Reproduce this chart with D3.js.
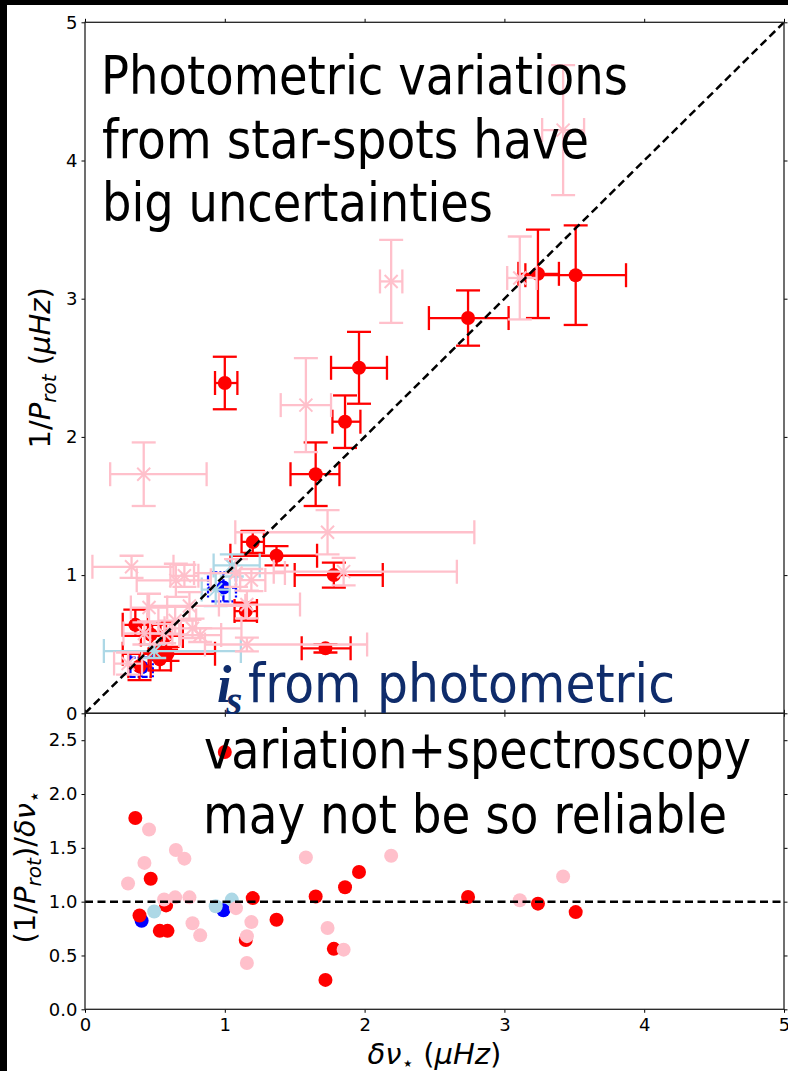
<!DOCTYPE html>
<html>
<head>
<meta charset="utf-8">
<script src="https://cdn.jsdelivr.net/npm/d3@7"></script>
<style>
  html, body { margin: 0; padding: 0; background: #000; }
  svg { display: block; }
</style>
</head>
<body>
<script>
// ---- Data: rotation rate 1/Prot vs. seismic splitting δν⋆ (µHz) ----
// red sample
const redDnu   = [1.00, 1.96, 1.86, 1.65, 2.74, 3.24, 3.51, 1.20, 1.37, 1.78, 1.72, 1.15, 0.36, 0.47, 0.58, 0.59, 0.535, 0.39];
const redInvP  = [2.39, 2.50, 2.11, 1.73, 2.86, 3.18, 3.17, 1.24, 1.14, 1.00, 0.47, 0.74, 0.64, 0.57, 0.56, 0.43, 0.39, 0.34];
const redDnuErr  = [[0.07,0.09],[0.20,0.20],[0.09,0.11],[0.18,0.17],[0.28,0.29],[0.14,0.15],[0.36,0.36],[0.08,0.08],[0.33,0.29],[0.28,0.35],[0.17,0.18],[0.08,0.08],[0.09,0.09],[0.07,0.07],[0.10,0.12],[0.32,0.34],[0.08,0.08],[0.08,0.08]];
const redInvPErr = [[0.19,0.19],[0.26,0.26],[0.19,0.19],[0.23,0.23],[0.20,0.20],[0.32,0.32],[0.36,0.36],[0.08,0.08],[0.07,0.07],[0.09,0.09],[0.03,0.03],[0.07,0.06],[0.08,0.11],[0.07,0.07],[0.10,0.10],[0.05,0.05],[0.08,0.08],[0.10,0.10]];

// blue sample
const blueDnu  = [0.405, 0.99];
const blueInvP = [0.333, 0.91];
const blueDnuErr  = [[0.08,0.08],[0.11,0.09]];
const blueInvPErr = [[0.07,0.07],[0.10,0.11]];

// light-blue sample
const lbDnu  = [0.495, 0.935, 1.05];
const lbInvP = [0.45, 0.895, 1.07];
const lbDnuErr  = [[0.36,0.62],[0.10,0.10],[0.13,0.20]];
const lbInvPErr = [[0.05,0.05],[0.12,0.12],[0.08,0.08]];

// pink sample
const pinkDnu  = [0.458, 0.425, 0.65, 0.711, 0.308, 0.566, 0.645, 0.747, 0.769, 0.824, 1.08, 1.19, 1.158, 1.158, 1.58, 1.735, 1.85, 2.19, 3.11, 3.42, 0.42, 0.333];
const pinkInvP = [0.765, 0.578, 0.962, 0.995, 0.36, 0.577, 0.671, 0.777, 0.615, 0.566, 1.015, 0.964, 0.787, 0.498, 2.23, 1.31, 1.025, 3.125, 3.15, 4.22, 1.73, 1.06];
const pinkDnuErr  = [[0.13,0.13],[0.15,0.20],[0.28,0.25],[0.10,0.10],[0.10,0.10],[0.10,0.12],[0.12,0.15],[0.30,0.40],[0.20,0.35],[0.15,0.15],[0.30,0.35],[0.08,0.10],[0.20,0.38],[0.30,0.86],[0.18,0.18],[0.66,1.05],[0.50,0.81],[0.08,0.08],[0.09,0.12],[0.15,0.15],[0.24,0.45],[0.28,0.30]];
const pinkInvPErr = [[0.10,0.10],[0.08,0.08],[0.12,0.12],[0.08,0.08],[0.08,0.08],[0.07,0.07],[0.10,0.10],[0.10,0.10],[0.07,0.07],[0.05,0.05],[0.10,0.10],[0.08,0.08],[0.10,0.10],[0.05,0.05],[0.34,0.34],[0.16,0.16],[0.10,0.10],[0.30,0.30],[0.30,0.30],[0.47,0.47],[0.23,0.23],[0.08,0.08]];

// tick labels
const xTicks = [0, 1, 2, 3, 4, 5];
const topYTicks = [0, 1, 2, 3, 4, 5];
const bottomYTicks = [0.0, 0.5, 1.0, 1.5, 2.0, 2.5];

// ---- Layout ----
const W = 788, H = 1071;
const left = 85, right = 784;
const topT = 22.3, topB = 713.3, botB = 1009.3;

const svg = d3.select("body").append("svg").attr("width", W).attr("height", H);
svg.append("rect").attr("width", W).attr("height", H).attr("fill", "#000");
svg.append("rect").attr("x", 7).attr("y", 5).attr("width", W - 7).attr("height", H - 5).attr("fill", "#fff");

const xS = d3.scaleLinear().domain([0, 5]).range([left, right]);
const yTop = d3.scaleLinear().domain([0, 5]).range([topB, topT]);
const yBot = d3.scaleLinear().domain([0, 2.75]).range([botB, topB]);

const defs = svg.append("defs");
defs.append("clipPath").attr("id", "clipTop").append("rect")
  .attr("x", left).attr("y", topT).attr("width", right - left).attr("height", topB - topT);
defs.append("clipPath").attr("id", "clipBot").append("rect")
  .attr("x", left).attr("y", topB).attr("width", right - left).attr("height", botB - topB);

const groups = [
  { dnu: blueDnu, invP: blueInvP, dErr: blueDnuErr, pErr: blueInvPErr, color: "#0000ff", marker: "o", dash: "6,2,2,2" },
  { dnu: redDnu,  invP: redInvP,  dErr: redDnuErr,  pErr: redInvPErr,  color: "#ff0000", marker: "o" },
  { dnu: lbDnu,   invP: lbInvP,   dErr: lbDnuErr,   pErr: lbInvPErr,   color: "#add8e6", marker: "x" },
  { dnu: pinkDnu, invP: pinkInvP, dErr: pinkDnuErr, pErr: pinkInvPErr, color: "#ffc0cb", marker: "x" }
];

// ---- Upper panel: 1/Prot vs δν⋆ with error bars ----
const upperG = svg.append("g").attr("clip-path", "url(#clipTop)");
const cap = 12;

groups.forEach(gr => {
  const data = gr.dnu.map((d, i) => ({ x: d, y: gr.invP[i], xe: gr.dErr[i], ye: gr.pErr[i] }));
  const g = upperG.append("g");
  const eb = g.append("g").attr("stroke", gr.color).attr("stroke-width", 2.3).attr("fill", "none");
  if (gr.dash) eb.attr("stroke-dasharray", gr.dash);
  data.forEach(d => {
    const cx = xS(d.x), cy = yTop(d.y);
    const x1 = xS(d.x - d.xe[0]), x2 = xS(d.x + d.xe[1]);
    const y1 = yTop(d.y - d.ye[0]), y2 = yTop(d.y + d.ye[1]);
    eb.append("line").attr("x1", x1).attr("x2", x2).attr("y1", cy).attr("y2", cy);
    eb.append("line").attr("x1", cx).attr("x2", cx).attr("y1", y1).attr("y2", y2);
    [x1, x2].forEach(xx => eb.append("line").attr("x1", xx).attr("x2", xx).attr("y1", cy - cap).attr("y2", cy + cap));
    [y1, y2].forEach(yy => eb.append("line").attr("x1", cx - cap).attr("x2", cx + cap).attr("y1", yy).attr("y2", yy));
  });
  if (gr.marker === "o") {
    g.selectAll("circle").data(data).join("circle")
      .attr("cx", d => xS(d.x)).attr("cy", d => yTop(d.y)).attr("r", 7)
      .attr("fill", gr.color);
  } else {
    const s = 6.5;
    g.selectAll("path.mk").data(data).join("path").attr("class", "mk")
      .attr("d", d => {
        const cx = xS(d.x), cy = yTop(d.y);
        return `M${cx - s},${cy - s}L${cx + s},${cy + s}M${cx - s},${cy + s}L${cx + s},${cy - s}`;
      })
      .attr("stroke", gr.color).attr("stroke-width", 2).attr("fill", "none");
  }
});

// one-to-one line
upperG.append("line")
  .attr("x1", xS(0)).attr("y1", yTop(0)).attr("x2", xS(5)).attr("y2", yTop(5))
  .attr("stroke", "#000").attr("stroke-width", 2.5).attr("stroke-dasharray", "8,4.5");

// ---- Lower panel: ratio (1/Prot)/δν⋆ ----
const lowerG = svg.append("g").attr("clip-path", "url(#clipBot)");
groups.forEach(gr => {
  const data = gr.dnu.map((d, i) => ({ x: d, r: gr.invP[i] / d }));
  lowerG.append("g").selectAll("circle").data(data).join("circle")
    .attr("cx", d => xS(d.x)).attr("cy", d => yBot(d.r)).attr("r", 7)
    .attr("fill", gr.color);
});
lowerG.append("line")
  .attr("x1", xS(0)).attr("x2", xS(5)).attr("y1", yBot(1)).attr("y2", yBot(1))
  .attr("stroke", "#000").attr("stroke-width", 2.5).attr("stroke-dasharray", "8,4.5");

// ---- Axes ----
function styleAxis(sel) {
  sel.select(".domain").remove();
  sel.selectAll(".tick line").attr("stroke", "#000").attr("stroke-width", 1);
  sel.selectAll(".tick text").attr("font-family", "DejaVu Sans").attr("font-size", 18).attr("fill", "#000");
}
const tk = 3.5;
svg.append("g").attr("transform", `translate(${left},0)`)
  .call(d3.axisLeft(yTop).tickValues(topYTicks).tickSize(tk).tickPadding(4).tickFormat(d3.format("d"))).call(styleAxis);
svg.append("g").attr("transform", `translate(${right},0)`)
  .call(d3.axisRight(yTop).tickValues(topYTicks).tickSize(tk).tickFormat("")).call(styleAxis);
svg.append("g").attr("transform", `translate(0,${topT})`)
  .call(d3.axisTop(xS).tickValues(xTicks).tickSize(tk).tickFormat("")).call(styleAxis);
svg.append("g").attr("transform", `translate(0,${topB})`)
  .call(d3.axisBottom(xS).tickValues(xTicks).tickSize(tk).tickFormat("")).call(styleAxis);

svg.append("g").attr("transform", `translate(${left},0)`)
  .call(d3.axisLeft(yBot).tickValues(bottomYTicks).tickSize(tk).tickPadding(4).tickFormat(d3.format(".1f"))).call(styleAxis);
svg.append("g").attr("transform", `translate(${right},0)`)
  .call(d3.axisRight(yBot).tickValues(bottomYTicks).tickSize(tk).tickFormat("")).call(styleAxis);
svg.append("g").attr("transform", `translate(0,${topB})`)
  .call(d3.axisTop(xS).tickValues(xTicks).tickSize(tk).tickFormat("")).call(styleAxis);
svg.append("g").attr("transform", `translate(0,${botB})`)
  .call(d3.axisBottom(xS).tickValues(xTicks).tickSize(tk).tickPadding(5.5).tickFormat(d3.format("d"))).call(styleAxis);

// spines
[[topT, topB], [topB, botB]].forEach(([a, b]) => {
  svg.append("rect").attr("x", left).attr("y", a).attr("width", right - left).attr("height", b - a)
    .attr("fill", "none").attr("stroke", "#222").attr("stroke-width", 1.3);
});

// ---- Axis labels ----
function mathLabel(g, parts) {
  const t = g.append("text").attr("font-family", "DejaVu Sans").attr("font-size", 29)
    .attr("fill", "#000").attr("text-anchor", "middle");
  parts.forEach(p => {
    const s = t.append("tspan").text(p.t);
    if (p.i) s.attr("font-style", "italic");
    if (p.sub) s.attr("font-size", 20);
    if (p.dy) s.attr("dy", p.dy);
  });
  return t;
}
mathLabel(svg.append("g").attr("transform", `translate(50,${(topT + topB) / 2}) rotate(-90)`), [
  { t: "1/" }, { t: "P", i: true }, { t: "rot", i: true, sub: true, dy: 6 }, { t: " (", dy: -6 }, { t: "μHz", i: true }, { t: ")" }
]);
mathLabel(svg.append("g").attr("transform", `translate(35,867) rotate(-90)`), [
  { t: "(1/" }, { t: "P", i: true }, { t: "rot", i: true, sub: true, dy: 6 }, { t: ")/", dy: -6 }, { t: "δν", i: true }, { t: "⋆", sub: true, dy: 6 }
]);
mathLabel(svg.append("g").attr("transform", `translate(${(left + right) / 2},1064)`), [
  { t: "δν", i: true }, { t: "⋆", sub: true, dy: 6 }, { t: " (", dy: -6 }, { t: "μHz", i: true }, { t: ")" }
]);

// ---- Annotations ----
function bigText(x, y, str, len, color) {
  svg.append("text").attr("x", x).attr("y", y).text(str)
    .attr("font-family", "DejaVu Sans").attr("font-size", 53).attr("fill", color)
    .attr("textLength", len).attr("lengthAdjust", "spacingAndGlyphs");
}
bigText(101, 94, "Photometric variations", 527, "#000");
bigText(102, 157.5, "from star-spots have", 487, "#000");
bigText(102, 221, "big uncertainties", 391, "#000");

const navy = "#0f2c6b";
svg.append("text").attr("x", 217).attr("y", 701.5).text("i")
  .attr("font-family", "Liberation Serif").attr("font-weight", "bold").attr("font-style", "italic")
  .attr("font-size", 52).attr("fill", navy);
svg.append("text").attr("x", 226).attr("y", 714).text("s")
  .attr("font-family", "Liberation Serif").attr("font-weight", "bold").attr("font-style", "italic")
  .attr("font-size", 42).attr("fill", navy);
bigText(248, 701.5, "from photometric", 427, navy);
bigText(204, 767.5, "variation+spectroscopy", 547, "#000");
bigText(203, 833, "may not be so reliable", 524, "#000");
</script>
</body>
</html>
